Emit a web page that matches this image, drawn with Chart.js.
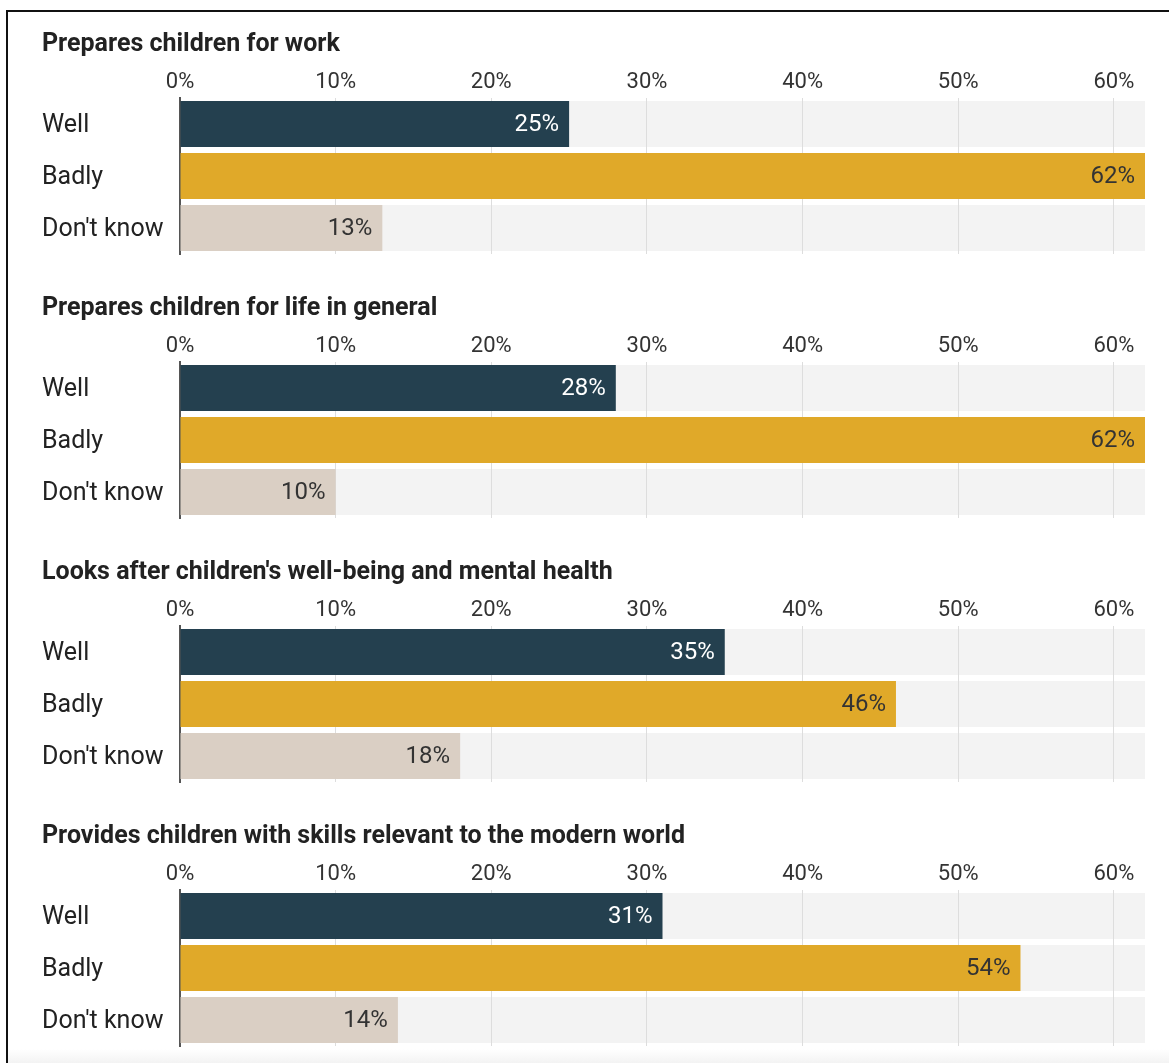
<!DOCTYPE html>
<html>
<head>
<meta charset="utf-8">
<script src="https://cdn.jsdelivr.net/npm/chart.js@4.4.0/dist/chart.umd.min.js"></script>
<style>
  html, body { margin: 0; padding: 0; background: #fff; overflow: hidden; }
  body { width: 1169px; height: 1063px; position: relative; }
  .frame { position: absolute; left: 6px; top: 10px; right: 0; bottom: 0;
           border-top: 2px solid #111; border-left: 2px solid #111; }
  .foot { position: absolute; left: 8px; right: 0; bottom: 0; height: 14px;
          background: linear-gradient(#fff, #f3f3f3); }
  .panel { position: absolute; left: 0; width: 1169px; height: 264px; }
</style>
</head>
<body>
<div class="frame"></div>
<div class="foot"></div>
<div class="panel" style="top:14px"><canvas id="c0" width="1169" height="264"></canvas></div>
<div class="panel" style="top:278px"><canvas id="c1" width="1169" height="264"></canvas></div>
<div class="panel" style="top:542px"><canvas id="c2" width="1169" height="264"></canvas></div>
<div class="panel" style="top:806px"><canvas id="c3" width="1169" height="264"></canvas></div>
<script>
// answer options, same for every question
const answers = ["Well", "Badly", "Don't know"];

const questions = [
    "Prepares children for work",
    "Prepares children for life in general",
    "Looks after children's well-being and mental health",
    "Provides children with skills relevant to the modern world"
];

// percentages per question (Well, Badly, Don't know)
const forWork = [25, 62, 13];
const forLife = [28, 62, 10];
const wellBeing = [35, 46, 18];
const modernSkills = [31, 54, 14];

const tickValues = [0, 10, 20, 30, 40, 50, 60];

const barColors = ['#24404f', '#e0a929', '#dacfc4'];
const labelColors = ['#ffffff', '#333333', '#333333'];

// grey band behind each row, drawn before grid so gridlines sit on top
const bandPlugin = {
    id: 'bands',
    beforeDraw(chart) {
        const ctx = chart.ctx;
        const x = chart.scales.x;
        const meta = chart.getDatasetMeta(0);
        ctx.save();
        ctx.fillStyle = '#f3f3f3';
        meta.data.forEach(bar => {
            const left = x.getPixelForValue(x.min);
            const right = x.getPixelForValue(x.max);
            ctx.fillRect(left, bar.y - bar.height / 2, right - left, bar.height);
        });
        ctx.restore();
    }
};

const valueLabelPlugin = {
    id: 'valueLabels',
    afterDatasetsDraw(chart) {
        const ctx = chart.ctx;
        const ds = chart.data.datasets[0];
        const meta = chart.getDatasetMeta(0);
        ctx.save();
        ctx.font = '24px Roboto';
        ctx.textAlign = 'right';
        ctx.textBaseline = 'middle';
        meta.data.forEach((bar, i) => {
            ctx.fillStyle = labelColors[i];
            ctx.fillText(ds.data[i] + '%', bar.x - 10, bar.y + 1);
        });
        ctx.restore();
    }
};

function makeChart(canvasId, title, values) {
    const ctx = document.getElementById(canvasId).getContext('2d');
    return new Chart(ctx, {
        type: 'bar',
        data: {
            labels: answers,
            datasets: [{
                data: values,
                backgroundColor: barColors,
                borderWidth: 0,
                barPercentage: 0.885,
                categoryPercentage: 1.0
            }]
        },
        plugins: [bandPlugin, valueLabelPlugin],
        options: {
            indexAxis: 'y',
            responsive: false,
            animation: false,
            layout: { padding: { left: 42, right: 24, top: 0, bottom: 24 } },
            plugins: {
                legend: { display: false },
                tooltip: { enabled: false },
                title: {
                    display: true,
                    text: title,
                    align: 'start',
                    color: '#222',
                    font: { family: 'Roboto', size: 25, weight: 'bold' },
                    padding: { top: 16, bottom: 8 }
                }
            },
            scales: {
                x: {
                    position: 'top',
                    min: 0,
                    max: 62,
                    afterBuildTicks(scale) {
                        scale.ticks = tickValues.map(v => ({ value: v }));
                    },
                    afterFit(scale) { scale.height = 30; },
                    ticks: {
                        color: '#333',
                        font: { family: 'Roboto', size: 22 },
                        padding: 2,
                        callback: v => v + '%'
                    },
                    grid: { color: '#dddddd', lineWidth: 1, drawTicks: false },
                    border: { display: false }
                },
                y: {
                    afterFit(scale) { scale.width = 138; },
                    ticks: {
                        color: '#222',
                        crossAlign: 'far',
                        labelOffset: 2,
                        font: { family: 'Roboto', size: 25 }
                    },
                    grid: { display: false },
                    border: { display: true, color: '#555', width: 2 }
                }
            }
        }
    });
}

makeChart('c0', questions[0], forWork);
makeChart('c1', questions[1], forLife);
makeChart('c2', questions[2], wellBeing);
makeChart('c3', questions[3], modernSkills);
</script>
</body>
</html>
